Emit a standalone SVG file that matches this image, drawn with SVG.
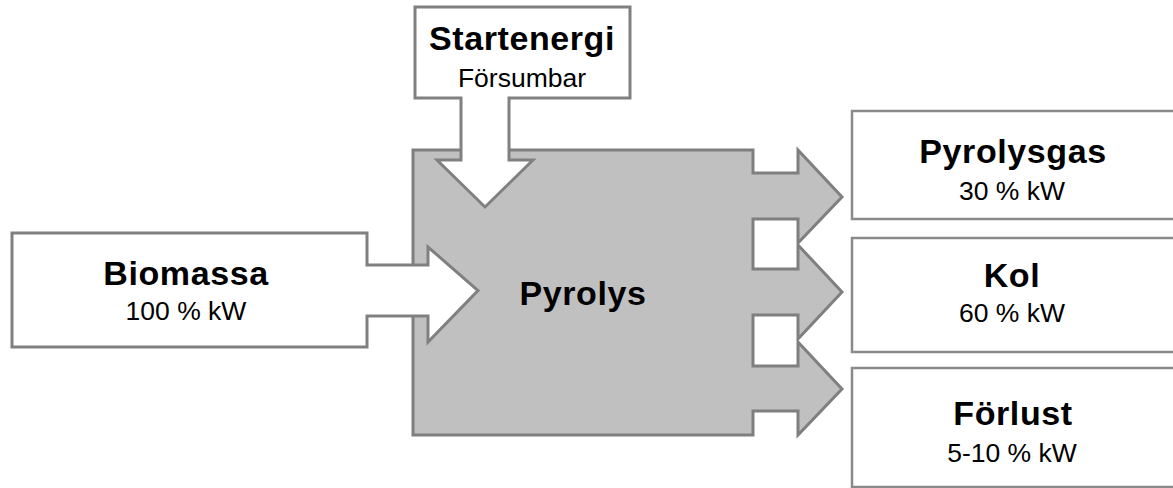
<svg xmlns="http://www.w3.org/2000/svg" width="1173" height="488" viewBox="0 0 1173 488">
  <style>
    .white { fill: #ffffff; stroke: #808080; stroke-width: 3; stroke-linejoin: miter; }
    .grey { fill: #c0c0c0; stroke: #7f7f7f; stroke-width: 3; stroke-linejoin: miter; }
    .box { fill: #ffffff; stroke: #8a8a8a; stroke-width: 2.5; }
    .t { font-family: "Liberation Sans", Arial, sans-serif; font-weight: bold; font-size: 34px; letter-spacing: 0.6px; fill: #000; text-anchor: middle; }
    .s { font-family: "Liberation Sans", Arial, sans-serif; font-size: 26.5px; fill: #000; text-anchor: middle; }
  </style>
  <rect width="1173" height="488" fill="#ffffff"/>

  <g id="pyrolys">
    <path class="grey" d="M413,150 L753,150 L753,173 L798,173 L798,150 L842,197 L798,243 L798,219 L753,219 L753,269 L798,269 L798,245 L842,292 L798,339 L798,315 L753,315 L753,366 L798,366 L798,342 L842,389 L798,435 L798,411 L753,411 L753,435 L413,435 Z"/>
    <text class="t" x="583" y="305">Pyrolys</text>
  </g>

  <g id="startenergi">
    <path class="white" d="M415,7 L630,7 L630,98 L509,98 L509,160 L533,160 L485,207 L437,160 L461,160 L461,98 L415,98 Z"/>
    <text class="t" x="522" y="50">Startenergi</text>
    <text class="s" x="522" y="87">Försumbar</text>
  </g>

  <g id="biomassa">
    <path class="white" d="M12,233 L367,233 L367,265 L428,265 L428,247 L478,290.5 L428,342 L428,316 L367,316 L367,347 L12,347 Z"/>
    <text class="t" x="186" y="285">Biomassa</text>
    <text class="s" x="186" y="320">100 % kW</text>
  </g>

  <g id="pyrolysgas">
    <rect class="box" x="852" y="111" width="340" height="108"/>
    <text class="t" x="1013" y="163">Pyrolysgas</text>
    <text class="s" x="1012" y="200">30 % kW</text>
  </g>

  <g id="kol">
    <rect class="box" x="852" y="238" width="340" height="114"/>
    <text class="t" x="1012" y="287">Kol</text>
    <text class="s" x="1012" y="322">60 % kW</text>
  </g>

  <g id="forlust">
    <rect class="box" x="852" y="368" width="340" height="119"/>
    <text class="t" x="1013" y="425">Förlust</text>
    <text class="s" x="1012" y="462">5-10 % kW</text>
  </g>

  <g id="connectors"></g>
</svg>
